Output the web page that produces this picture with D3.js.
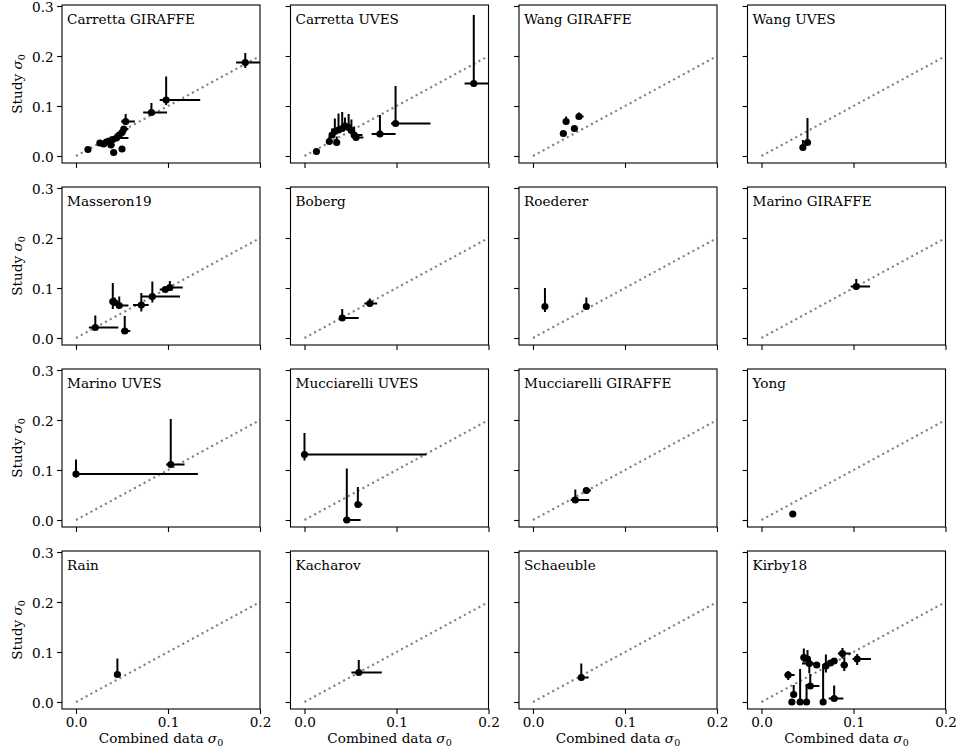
<!DOCTYPE html>
<html>
<head>
<meta charset="utf-8">
<script src="https://cdn.jsdelivr.net/npm/d3@7"></script>
<style>
  body { margin: 0; background: #fff; }
  text { font-family: "DejaVu Serif", serif; fill: #000; }
</style>
</head>
<body>
<svg id="chart" width="958" height="755"></svg>
<script>
// each point: [x, x err low, x err high, y, y err low, y err high]
const carrettaGiraffe = [
  [0.184, 0.010, 0.030, 0.187, 0.011, 0.019],
  [0.098, 0.007, 0.037, 0.112, 0.010, 0.047],
  [0.082, 0.009, 0.017, 0.087, 0.005, 0.019],
  [0.054, 0.005, 0.010, 0.069, 0.007, 0.015],
  [0.013, 0.002, 0.002, 0.013, 0.002, 0.002],
  [0.026, 0.003, 0.004, 0.026, 0.003, 0.003],
  [0.030, 0.003, 0.004, 0.024, 0.003, 0.004],
  [0.033, 0.003, 0.004, 0.028, 0.003, 0.004],
  [0.036, 0.003, 0.004, 0.030, 0.003, 0.004],
  [0.038, 0.003, 0.004, 0.022, 0.003, 0.003],
  [0.040, 0.003, 0.004, 0.033, 0.003, 0.004],
  [0.041, 0.002, 0.003, 0.007, 0.002, 0.003],
  [0.050, 0.002, 0.003, 0.014, 0.002, 0.003],
  [0.044, 0.004, 0.013, 0.036, 0.003, 0.004],
  [0.047, 0.003, 0.004, 0.042, 0.003, 0.005],
  [0.050, 0.003, 0.004, 0.047, 0.003, 0.005],
  [0.052, 0.003, 0.005, 0.054, 0.004, 0.006]
];
const carrettaUves = [
  [0.184, 0.010, 0.030, 0.145, 0.003, 0.137],
  [0.099, 0.005, 0.038, 0.065, 0.004, 0.075],
  [0.082, 0.009, 0.017, 0.044, 0.003, 0.038],
  [0.013, 0.002, 0.002, 0.009, 0.002, 0.002],
  [0.027, 0.002, 0.003, 0.029, 0.003, 0.010],
  [0.035, 0.002, 0.003, 0.027, 0.003, 0.012],
  [0.030, 0.002, 0.003, 0.042, 0.003, 0.013],
  [0.033, 0.002, 0.003, 0.049, 0.003, 0.026],
  [0.037, 0.002, 0.003, 0.052, 0.003, 0.033],
  [0.041, 0.002, 0.003, 0.055, 0.004, 0.033],
  [0.044, 0.002, 0.003, 0.060, 0.004, 0.017],
  [0.048, 0.002, 0.003, 0.057, 0.004, 0.027],
  [0.051, 0.002, 0.003, 0.051, 0.004, 0.022],
  [0.054, 0.002, 0.009, 0.042, 0.003, 0.017],
  [0.056, 0.002, 0.008, 0.037, 0.003, 0.010]
];
const wangGiraffe = [
  [0.033, 0.001, 0.001, 0.045, 0.002, 0.002],
  [0.036, 0.001, 0.001, 0.069, 0.002, 0.010],
  [0.045, 0.001, 0.001, 0.055, 0.002, 0.002],
  [0.050, 0.001, 0.005, 0.079, 0.002, 0.008]
];
const wangUves = [
  [0.045, 0.001, 0.001, 0.017, 0.002, 0.015],
  [0.050, 0.001, 0.002, 0.027, 0.002, 0.049]
];
const masseron19 = [
  [0.021, 0.007, 0.025, 0.021, 0.003, 0.024],
  [0.040, 0.002, 0.003, 0.073, 0.015, 0.037],
  [0.042, 0.002, 0.003, 0.071, 0.005, 0.010],
  [0.047, 0.002, 0.010, 0.065, 0.004, 0.018],
  [0.053, 0.004, 0.006, 0.014, 0.003, 0.030],
  [0.071, 0.009, 0.008, 0.066, 0.013, 0.024],
  [0.083, 0.012, 0.030, 0.083, 0.012, 0.030],
  [0.097, 0.006, 0.008, 0.097, 0.004, 0.004],
  [0.102, 0.004, 0.014, 0.101, 0.005, 0.013]
];
const boberg = [
  [0.041, 0.002, 0.018, 0.040, 0.002, 0.018],
  [0.071, 0.006, 0.008, 0.069, 0.007, 0.010]
];
const roederer = [
  [0.013, 0.001, 0.001, 0.063, 0.011, 0.037],
  [0.058, 0.001, 0.001, 0.063, 0.004, 0.018]
];
const marinoGiraffe = [
  [0.103, 0.006, 0.015, 0.103, 0.006, 0.015]
];
const marinoUves = [
  [0.000, 0.000, 0.1325, 0.092, 0.007, 0.029],
  [0.103, 0.005, 0.015, 0.111, 0.007, 0.091]
];
const mucciarelliUves = [
  [0.000, 0.000, 0.1325, 0.131, 0.012, 0.043],
  [0.046, 0.004, 0.015, 0.000, 0.000, 0.103],
  [0.058, 0.002, 0.005, 0.031, 0.002, 0.035]
];
const mucciarelliGiraffe = [
  [0.046, 0.005, 0.015, 0.040, 0.002, 0.021],
  [0.058, 0.002, 0.005, 0.059, 0.002, 0.002]
];
const yong = [
  [0.034, 0.000, 0.000, 0.012, 0.000, 0.000]
];
const rain = [
  [0.045, 0.000, 0.000, 0.055, 0.002, 0.032]
];
const kacharov = [
  [0.059, 0.008, 0.025, 0.059, 0.004, 0.025]
];
const schaeuble = [
  [0.0525, 0.003, 0.008, 0.049, 0.002, 0.028]
];
const kirby18 = [
  [0.029, 0.004, 0.007, 0.054, 0.010, 0.008],
  [0.035, 0.002, 0.002, 0.015, 0.004, 0.019],
  [0.033, 0.002, 0.002, 0.000, 0.000, 0.004],
  [0.042, 0.002, 0.002, 0.000, 0.000, 0.066],
  [0.049, 0.002, 0.002, 0.000, 0.000, 0.036],
  [0.053, 0.005, 0.010, 0.032, 0.004, 0.024],
  [0.067, 0.002, 0.002, 0.000, 0.000, 0.076],
  [0.079, 0.006, 0.010, 0.007, 0.003, 0.026],
  [0.046, 0.002, 0.002, 0.089, 0.010, 0.018],
  [0.050, 0.002, 0.002, 0.086, 0.010, 0.018],
  [0.052, 0.008, 0.005, 0.077, 0.020, 0.004],
  [0.060, 0.003, 0.003, 0.074, 0.003, 0.003],
  [0.070, 0.003, 0.003, 0.072, 0.013, 0.023],
  [0.075, 0.003, 0.003, 0.078, 0.003, 0.003],
  [0.079, 0.003, 0.003, 0.082, 0.003, 0.003],
  [0.088, 0.005, 0.009, 0.097, 0.010, 0.011],
  [0.090, 0.004, 0.004, 0.074, 0.012, 0.015],
  [0.104, 0.005, 0.015, 0.086, 0.012, 0.010]
];

const panelNames = [
  "Carretta GIRAFFE", "Carretta UVES", "Wang GIRAFFE", "Wang UVES",
  "Masseron19", "Boberg", "Roederer", "Marino GIRAFFE",
  "Marino UVES", "Mucciarelli UVES", "Mucciarelli GIRAFFE", "Yong",
  "Rain", "Kacharov", "Schaeuble", "Kirby18"
];
const panelData = [
  carrettaGiraffe, carrettaUves, wangGiraffe, wangUves,
  masseron19, boberg, roederer, marinoGiraffe,
  marinoUves, mucciarelliUves, mucciarelliGiraffe, yong,
  rain, kacharov, schaeuble, kirby18
];
const xTicks = [0.0, 0.1, 0.2];
const yTicks = [0.0, 0.1, 0.2, 0.3];
const oneToOne = [0, 0.2];

const svg = d3.select("svg#chart");
const W = 198, H = 158;
const fs = 13.6;

const x = d3.scaleLinear().domain([-0.0152, 0.2]).range([0, W]);
const y = d3.scaleLinear().domain([-0.014, 0.302]).range([H, 0]);

function addSigma(sel, label) {
  sel.text(label);
  sel.append("tspan").attr("font-style", "italic").text("σ");
  sel.append("tspan").attr("font-size", fs * 0.7).attr("dy", 3).text("0");
}

panelNames.forEach(function(name, i) {
  const row = Math.floor(i / 4), col = i % 4;
  const g = svg.append("g")
    .attr("transform", translate(62 + col * 228.5, 5 + row * 182));

  g.append("clipPath").attr("id", "clip" + i)
    .append("rect").attr("width", W).attr("height", H);

  // axes
  const xAxis = d3.axisBottom(x).tickValues(xTicks).tickSizeOuter(0)
    .tickSize(4.9).tickPadding(3.5)
    .tickFormat(row === 3 ? d3.format(".1f") : "");
  const yAxis = d3.axisLeft(y).tickValues(yTicks).tickSizeOuter(0)
    .tickSize(4.9).tickPadding(3.5)
    .tickFormat(col === 0 ? d3.format(".1f") : "");

  const gx = g.append("g").attr("transform", translate(0, H)).call(xAxis);
  const gy = g.append("g").call(yAxis);
  [gx, gy].forEach(function(a) {
    a.select(".domain").remove();
    a.selectAll("line").attr("stroke", "#000").attr("stroke-width", 1.1);
    a.selectAll("text").attr("font-family", "DejaVu Serif").attr("font-size", fs).attr("fill", "#000");
  });
  gy.selectAll("text").attr("dy", "0.4em");

  const plot = g.append("g").attr("clip-path", "url(#clip" + i + ")");

  plot.append("line")
    .attr("x1", x(oneToOne[0])).attr("y1", y(oneToOne[0]))
    .attr("x2", x(oneToOne[1])).attr("y2", y(oneToOne[1]))
    .attr("stroke", "#808080").attr("stroke-width", 2.1)
    .attr("stroke-dasharray", "2.1,3.4");

  const pts = panelData[i];
  plot.selectAll("line.xerr").data(pts).enter().append("line")
    .attr("class", "xerr")
    .attr("x1", d => x(d[0] - d[1])).attr("x2", d => x(d[0] + d[2]))
    .attr("y1", d => y(d[3])).attr("y2", d => y(d[3]))
    .attr("stroke", "#000").attr("stroke-width", 2);
  plot.selectAll("line.yerr").data(pts).enter().append("line")
    .attr("class", "yerr")
    .attr("x1", d => x(d[0])).attr("x2", d => x(d[0]))
    .attr("y1", d => y(d[3] - d[4])).attr("y2", d => y(d[3] + d[5]))
    .attr("stroke", "#000").attr("stroke-width", 2);
  plot.selectAll("circle").data(pts).enter().append("circle")
    .attr("cx", d => x(d[0])).attr("cy", d => y(d[3]))
    .attr("r", 3.6).attr("fill", "#000");

  g.append("rect").attr("width", W).attr("height", H)
    .attr("fill", "none").attr("stroke", "#000").attr("stroke-width", 1.1);

  g.append("text").attr("x", 5).attr("y", 19)
    .attr("font-size", fs).text(name);

  if (col === 0) {
    const t = g.append("text")
      .attr("transform", "translate(-40," + (H / 2) + ") rotate(-90)")
      .attr("text-anchor", "middle").attr("font-size", fs);
    addSigma(t, "Study ");
  }
  if (row === 3) {
    const t = g.append("text")
      .attr("x", W / 2).attr("y", H + 34)
      .attr("text-anchor", "middle").attr("font-size", fs);
    addSigma(t, "Combined data ");
  }
});

function translate(x, y) {
  return "translate(" + String(x) + "," + String(y) + ")";
}
</script>
</body>
</html>
